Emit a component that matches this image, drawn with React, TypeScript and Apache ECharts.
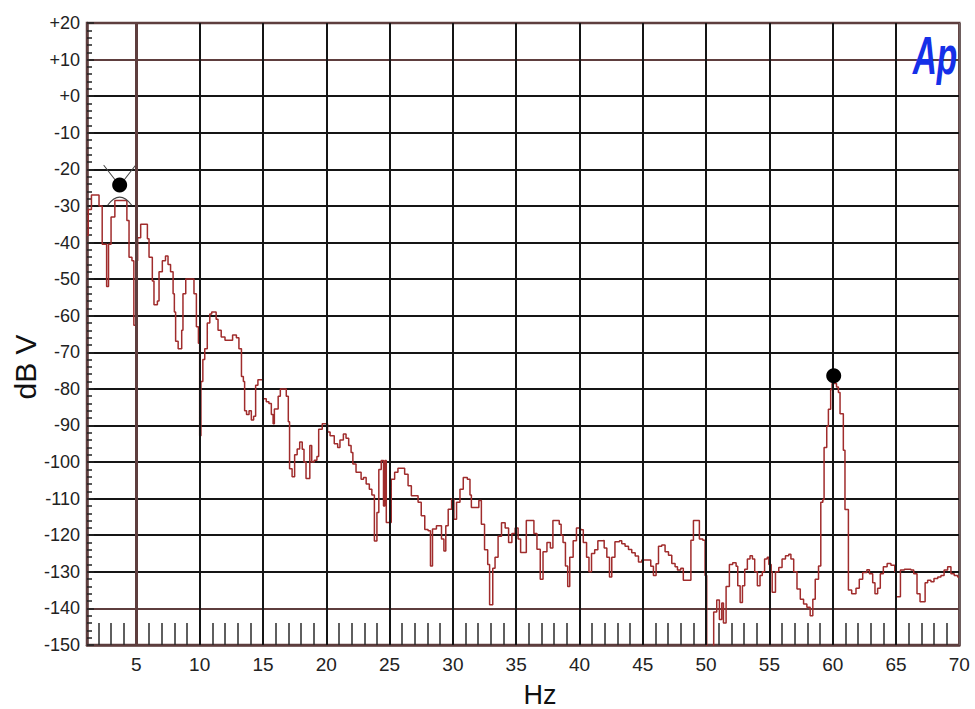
import React, { useEffect, useRef } from 'react';
import * as echarts from 'echarts';

// Spectrum trace (FFT bins)
const freqHz = [
  1.1, 1.2, 1.45, 2.05, 2.3, 2.65, 2.8, 3.0, 3.3, 4.25, 4.42, 4.65, 4.8, 5.0, 5.1, 5.34, 5.87, 6.0, 6.26, 6.39,
  6.66, 6.79, 7.05, 7.3, 7.5, 7.7, 7.9, 8.0, 8.1, 8.3, 8.58, 8.68, 8.9, 9.55, 9.74, 9.9, 10.0, 10.1, 10.25, 10.4,
  10.6, 10.8, 10.95, 11.3, 11.45, 11.7, 12.0, 12.6, 12.9, 13.1, 13.3, 13.45, 13.55, 13.7, 13.9, 14.08, 14.26, 14.42, 14.6, 15.0,
  15.26, 15.47, 15.66, 15.8, 15.9, 16.2, 16.37, 16.84, 17.0, 17.1, 17.3, 17.5, 17.7, 17.9, 18.1, 18.24, 18.4, 18.7, 18.85, 19.05,
  19.26, 19.4, 19.68, 20.1, 20.3, 20.63, 20.9, 21.08, 21.35, 21.56, 21.77, 21.96, 22.1, 22.35, 22.75, 22.94, 23.15, 23.4, 23.6, 23.8,
  24.0, 24.15, 24.34, 24.52, 24.63, 24.74, 25.13, 25.4, 25.66, 26.19, 26.46, 26.72, 27.25, 27.5, 27.78, 28.04, 28.23, 28.39, 28.7, 29.1,
  29.29, 29.44, 29.63, 29.9, 30.08, 30.29, 30.56, 30.82, 31.14, 31.35, 31.46, 32.05, 32.25, 32.5, 32.75, 32.9, 33.15, 33.33, 33.57, 33.84,
  34.13, 34.4, 34.66, 34.92, 35.15, 35.35, 35.8, 36.3, 36.4, 36.64, 36.9, 37.12, 37.43, 37.7, 37.9, 38.4, 38.55, 38.7, 38.89, 39.07,
  39.23, 39.5, 39.76, 40.08, 40.3, 40.56, 40.75, 40.95, 41.2, 41.45, 41.84, 41.95, 42.16, 42.37, 42.55, 42.8, 43.16, 43.34, 43.6, 43.87,
  44.13, 44.4, 44.66, 44.92, 45.45, 45.63, 45.84, 46.05, 46.24, 46.5, 46.76, 47.03, 47.29, 47.55, 47.74, 48.0, 48.2, 48.8, 49.0, 49.47,
  49.74, 49.92, 50.05, 50.6, 50.84, 51.05, 51.24, 51.37, 51.58, 51.84, 52.1, 52.37, 52.5, 52.69, 52.87, 53.05, 53.26, 53.47, 53.66, 53.84,
  54.05, 54.26, 54.44, 54.62, 54.83, 54.96, 55.14, 55.22, 55.48, 55.74, 56.0, 56.27, 56.53, 56.7, 56.92, 57.18, 57.44, 57.7, 57.96, 58.22,
  58.43, 58.62, 58.88, 59.06, 59.22, 59.32, 59.53, 59.66, 59.84, 59.95, 60.3, 60.45, 60.58, 60.84, 60.97, 61.24, 61.5, 61.84, 62.1, 62.37,
  62.7, 62.9, 63.16, 63.34, 63.55, 63.76, 64.0, 64.3, 64.6, 64.9, 65.0, 65.35, 65.66, 66.18, 66.4, 66.66, 66.9, 67.3, 67.5, 67.76,
  68.0, 68.3, 68.55, 68.8, 69.08, 69.34, 69.6, 69.87, 70
];
const levelDb = [
  -38, -31, -27, -30, -40.5, -52, -40.5, -33, -28.5, -34, -44, -45, -62.6, -45, -38.7, -35, -39, -44, -50.5, -57,
  -56, -48, -45, -43.7, -46, -48, -54, -59, -67, -69, -64, -54, -50, -54, -63, -67.5, -92.8, -78, -72, -69,
  -62, -59.5, -59, -61, -64, -65.8, -66.7, -65.3, -66, -69, -76.6, -78, -86, -87, -86, -88.5, -87.5, -79, -77.5, -82.7,
  -83.5, -84, -87, -89.5, -85.5, -82, -80, -82, -89, -101.8, -104, -98, -96.4, -94.5, -96.5, -100, -104.5, -95.5, -100, -99.5,
  -98.5, -91, -89.5, -91.8, -92.8, -95, -96, -94, -92.3, -93.5, -95.5, -97.4, -100.5, -102.8, -104.7, -104.2, -106, -107.4, -109, -121.6,
  -113.8, -102, -99.6, -112, -99.6, -116.5, -104.7, -102.8, -101.7, -103.3, -106.5, -109.2, -111, -114.7, -118.4, -118.8, -128.4, -118.3, -117.4, -121,
  -124.3, -117.4, -112.9, -110.1, -115.6, -111, -107.4, -104.2, -104.7, -109, -112.4, -110.5, -117, -124, -128, -139, -129, -126, -120.3, -116.6,
  -118, -122, -119.5, -118, -121, -124.7, -116, -116, -119.5, -123.8, -132, -124.5, -122, -123.5, -116, -117, -120, -122, -128.4, -134,
  -126, -121.5, -118, -118.5, -122, -126, -130, -125, -124, -121.5, -121.4, -123.5, -126, -131.4, -126, -121.8, -121.5, -122.3, -123, -123.9,
  -124.8, -125.7, -127.3, -126.8, -126.8, -128.5, -131, -127.8, -123, -122.7, -124.5, -125.5, -127.7, -128.6, -129.5, -129, -132.3, -121.4, -116, -121,
  -121.4, -131, -156, -141, -137.7, -143, -138.5, -144, -134, -128, -127.5, -128.5, -133.8, -138.4, -133.8, -129.3, -126.5, -125.6, -126.5, -130,
  -133.8, -131, -130, -126.5, -126, -128, -130, -135.6, -130, -128.8, -126.5, -125.6, -125.2, -126.5, -130, -134.7, -137.5, -138.8, -139.7, -142,
  -137.5, -132, -128.4, -111, -110.2, -96, -90.2, -85.6, -80.2, -78.5, -79.5, -81, -86.8, -96.8, -113, -135, -136, -134.5, -132, -130.2,
  -129.4, -130.5, -133, -136, -134.5, -130.5, -128.6, -127.7, -128.2, -130, -136.8, -129.5, -129.3, -129.5, -130.5, -136, -138.2, -133, -132.3, -132.7,
  -131.8, -131.4, -131, -129.5, -128.6, -130.5, -131, -131.4, -131.4
];

// Cursor markers
const markerHz = [3.68, 60.08];
const markerDb = [-24.3, -76.4];

// Axis tick values
const xLabelValues = [5, 10, 15, 20, 25, 30, 35, 40, 45, 50, 55, 60, 65, 70];
const xMinorTickValues = [
  2, 3, 4, 6, 7, 8, 9, 11, 12, 13, 14, 16, 17, 18, 19, 21, 22, 23, 24, 26, 27, 28, 29,
  31, 32, 33, 34, 36, 37, 38, 39, 41, 42, 43, 44, 46, 47, 48, 49, 51, 52, 53, 54,
  56, 57, 58, 59, 61, 62, 63, 64, 66, 67, 68, 69
];
const yMin = -150;
const yMax = 20;
const yStep = 10;

const FONT = "'Liberation Sans', Arial, sans-serif";
const BROWN = '#5e3e3e';
const INK = '#151515';

export default function App() {
  const ref = useRef<HTMLDivElement>(null);

  useEffect(() => {
    if (!ref.current) return;
    const chart = echarts.init(ref.current, null, { renderer: 'svg' });
    const traceData = freqHz.map((f, i) => [f, levelDb[i]]);
    const markerData = markerHz.map((f, i) => [f, markerDb[i]]);

    // horizontal grid colours, from min (-150) to max (+20)
    const yLineColors: string[] = [];
    for (let v = yMin; v <= yMax; v += yStep) {
      yLineColors.push(v <= -140 || v >= 10 ? BROWN : INK);
    }

    const option: any = {
      animation: false,
      backgroundColor: '#ffffff',
      grid: {
        left: 87,
        right: 15.7,
        top: 23,
        bottom: 64,
        show: true,
        borderColor: BROWN,
        borderWidth: 2.5,
        backgroundColor: '#ffffff',
      },
      xAxis: {
        type: 'value',
        min: 1.1,
        max: 70,
        axisLine: { show: true, onZero: false, lineStyle: { color: BROWN, width: 2.5 } },
        axisTick: {
          show: true,
          inside: true,
          length: 22,
          customValues: xMinorTickValues,
          lineStyle: { color: '#2a2a2a', width: 1.5 },
        },
        axisLabel: {
          customValues: xLabelValues,
          color: '#222',
          fontSize: 19,
          fontFamily: FONT,
          margin: 10,
        },
        splitLine: { show: false },
      },
      yAxis: {
        type: 'value',
        min: yMin,
        max: yMax,
        interval: yStep,
        axisLine: { show: true, onZero: false, lineStyle: { color: BROWN, width: 2.5 } },
        axisTick: { show: true, inside: true, length: 7, lineStyle: { color: '#222', width: 1.5 } },
        minorTick: { show: true, splitNumber: 5, length: 5, lineStyle: { color: '#222', width: 1.5 } },
        axisLabel: {
          formatter: (v: number) => (v >= 0 ? '+' + v : String(v)),
          color: '#222',
          fontSize: 18,
          fontFamily: FONT,
          margin: 7,
        },
        splitLine: { show: true, lineStyle: { color: yLineColors, width: 2 } },
      },
      series: [
        {
          type: 'line',
          data: [],
          z: 1,
          silent: true,
          markLine: {
            silent: true,
            symbol: ['none', 'none'],
            label: { show: false },
            animation: false,
            data: xLabelValues.map((v) => ({
              xAxis: v,
              lineStyle: {
                color: v === 5 ? BROWN : v === 70 ? '#6e5e5e' : INK,
                width: v === 5 ? 3 : 2,
                type: 'solid',
              },
            })),
          },
        },
        {
          type: 'line',
          data: traceData,
          step: 'end',
          showSymbol: false,
          z: 3,
          lineStyle: { color: '#a02c2c', width: 1.5 },
        },
        {
          type: 'scatter',
          data: [markerData[0]],
          z: 4,
          symbol: 'path://M0,0 L14,18 M32,0 L18,18 M4,40 Q16,24 28,40',
          symbolSize: [32, 40],
          itemStyle: { color: 'none', borderColor: '#444', borderWidth: 1, opacity: 1 },
        },
        {
          type: 'scatter',
          data: markerData,
          z: 5,
          symbol: 'circle',
          symbolSize: 15,
          itemStyle: { color: '#000', opacity: 1 },
        },
      ],
      graphic: [
        {
          type: 'text',
          x: 25,
          y: 367,
          rotation: Math.PI / 2,
          style: {
            text: 'dB V',
            fontSize: 30,
            fontFamily: FONT,
            fill: '#111',
            align: 'center',
            verticalAlign: 'middle',
          },
        },
        {
          type: 'text',
          x: 540,
          y: 695,
          style: {
            text: 'Hz',
            fontSize: 27,
            fontFamily: FONT,
            fill: '#111',
            align: 'center',
            verticalAlign: 'middle',
          },
        },
        {
          type: 'text',
          x: 935,
          y: 55,
          scaleX: 0.62,
          z: 10,
          style: {
            text: 'Ap',
            fontSize: 54,
            fontWeight: 'bold',
            fontStyle: 'italic',
            fontFamily: FONT,
            fill: '#1530e8',
            align: 'center',
            verticalAlign: 'middle',
          },
        },
      ],
    };

    chart.setOption(option);
    return () => chart.dispose();
  }, []);

  return (
    <div
      ref={ref}
      style={{ position: 'fixed', left: 0, top: 0, width: 975, height: 709, background: '#fff' }}
    />
  );
}
